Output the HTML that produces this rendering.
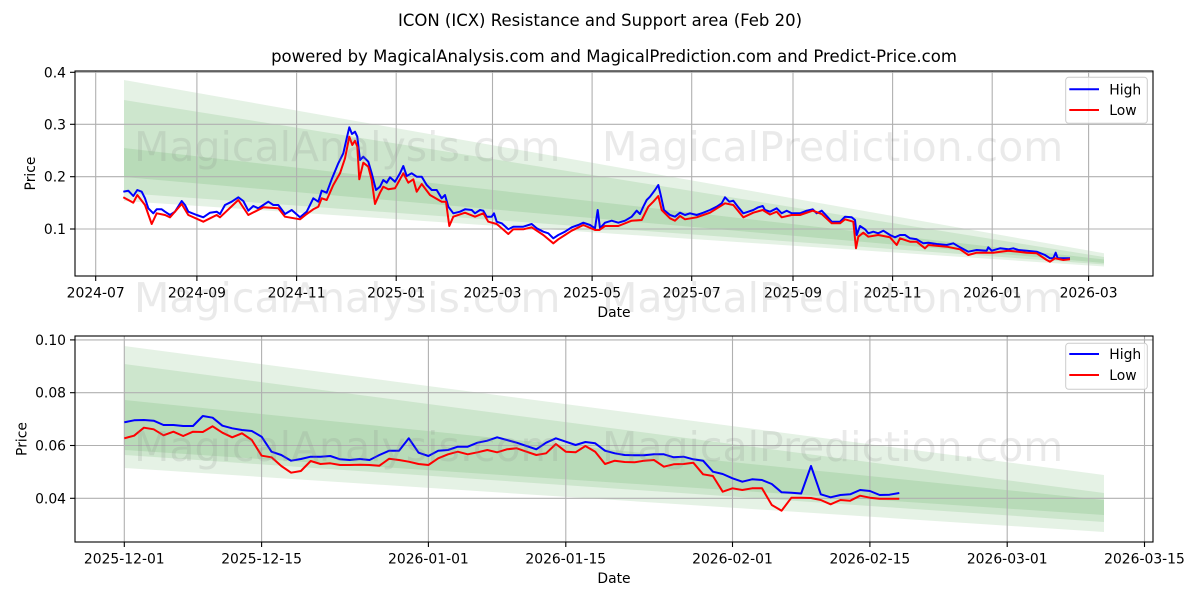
<!DOCTYPE html>
<html>
<head>
<meta charset="utf-8">
<style>
html,body{margin:0;padding:0;background:#fff;}
svg{display:block;}
text{font-family:"DejaVu Sans","Liberation Sans",sans-serif;fill:#000;}
</style>
</head>
<body>
<svg width="1200" height="600" viewBox="0 0 1200 600" xmlns="http://www.w3.org/2000/svg">
<rect x="0" y="0" width="1200" height="600" fill="#fff"/>

<!-- Titles -->
<text x="600" y="26" font-size="16.5" text-anchor="middle">ICON (ICX) Resistance and Support area (Feb 20)</text>
<text x="614" y="62" font-size="16.5" text-anchor="middle">powered by MagicalAnalysis.com and MagicalPrediction.com and Predict-Price.com</text>

<!-- ============ TOP CHART ============ -->
<defs>
<clipPath id="c1"><rect x="75" y="71" width="1078" height="205"/></clipPath>
<clipPath id="c2"><rect x="75" y="336" width="1078" height="206"/></clipPath>
</defs>
<g clip-path="url(#c1)">
<polygon points="124,80 1104,253.3 1104,266.5 124,201" fill="#008000" fill-opacity="0.1"/>
<polygon points="124,100 1104,257 1104,264.5 124,193" fill="#008000" fill-opacity="0.1"/>
<polygon points="124,148 1104,259.5 1104,263 124,177" fill="#008000" fill-opacity="0.1"/>
</g>
<!-- grid top -->
<g stroke="#b0b0b0" stroke-width="1.1">
<line x1="95.7" y1="71" x2="95.7" y2="276"/>
<line x1="196.9" y1="71" x2="196.9" y2="276"/>
<line x1="296.6" y1="71" x2="296.6" y2="276"/>
<line x1="396.2" y1="71" x2="396.2" y2="276"/>
<line x1="492.5" y1="71" x2="492.5" y2="276"/>
<line x1="592.1" y1="71" x2="592.1" y2="276"/>
<line x1="691.7" y1="71" x2="691.7" y2="276"/>
<line x1="793" y1="71" x2="793" y2="276"/>
<line x1="892.6" y1="71" x2="892.6" y2="276"/>
<line x1="992.2" y1="71" x2="992.2" y2="276"/>
<line x1="1088.6" y1="71" x2="1088.6" y2="276"/>
<line x1="75" y1="229" x2="1153" y2="229"/>
<line x1="75" y1="176.7" x2="1153" y2="176.7"/>
<line x1="75" y1="124.3" x2="1153" y2="124.3"/>
<line x1="75" y1="72.3" x2="1153" y2="72.3"/>
</g>
<g clip-path="url(#c1)" fill="none" stroke-width="2" stroke-linejoin="round">
<polyline stroke="#0000ff" points="123.3,191.7 128.3,190.7 133.3,196 137.3,190 141.7,191.7 145,198.3 148.3,208.3 153.3,213.3 156.7,209.3 161.7,209.3 165,211.7 170,215 175,211.7 181.7,201 185,205 188.3,211.7 196.7,215 203.3,217.3 210,212.7 216.7,211.7 220,214 225,205 231.7,201.7 238.3,197.3 243.3,201 248.3,210.7 253.3,206 258.3,208.3 263.3,205 268.3,201.7 273.3,205 278.3,205 285,214 291.7,210 300,217.3 306.7,211.7 313.3,198.3 318.3,201.7 321.7,190.7 326.7,192.7 331.7,179.3 338.3,163.3 343.3,153.3 346.7,138.3 349.3,127.3 352,134 355,131.7 357.3,136.7 360,160 363.3,156.7 368.3,161.7 371.7,173.3 376,190 380,186.7 383.3,180 386.7,182.7 390,177.3 395,181.7 400,173.3 403.3,166 406.7,176 411.7,173.3 416.7,176.7 421.7,176.7 426.7,185 431.7,190 436.7,190 441.7,198.3 445,195 448.3,206.7 453.3,213.3 460,211.7 465,209.3 471.7,210 475,213.3 480,210 483.3,210.7 486.7,216.7 491.7,216.7 494,213.3 496.7,221.7 501.7,223.3 508.3,229.3 513.3,226.7 523.3,226.7 531.7,224 536.7,228.3 543.3,231.7 548.3,233.3 553.3,238.3 558.3,235 565,231.7 571.7,227.3 578.3,225 583.3,222.7 590,225 595,228.3 597.7,210 600,228.3 605,222.7 611.7,220.7 618.3,222.7 625,220.7 631.7,216.7 636.7,210.7 640,214 643.3,206.7 646.7,200 650,196.7 655,190 658.3,185 660.7,195 664,210 670,215 675,216.7 680,212.7 685,215 690,213.3 696.7,215 703.3,212.7 710,210 716.7,206.7 721.7,203.3 725,197.3 729.3,201.7 733.3,200.7 738.3,207.3 743.3,213.3 748.3,211.7 753.3,210 758.3,207.3 762.7,206 765,210 770,211.7 776.7,208.3 781.7,213.3 786.7,210.7 791.7,213.3 800,213.3 806.7,210.7 812.7,209.3 816.7,213.3 821.7,210.7 826.7,216 831.7,221.7 840,221.7 845,216.7 851.7,217.3 855,220 856.7,235 860,226 865,229.3 868.3,233.3 873.3,231.7 878.3,233.3 883.3,230.7 890,235 895,237.3 900,235 905,235 910,238.3 916.7,239.3 923.3,243.3 928.3,242.7 936.7,244 946.7,245 953.3,243.3 960,247.3 968.3,251.7 976.7,250 986.7,250.7 988.3,247.3 991.7,250.7 1000,248.3 1008.3,249.3 1013.3,248.3 1018.3,250 1026.7,250.7 1036.7,251.7 1045,255 1050,258.3 1053.3,258.3 1055.7,252.7 1057.7,258.3 1063.3,258.3 1070,258.3"/>
<polyline stroke="#ff0000" points="123.3,197.3 133.3,202.7 137.3,195 145,205 151.7,224 156.7,213.3 165,215 170,217.3 181.7,204 188.3,215 203.3,221.7 216.7,215 220,217.3 238.3,200 248.3,215 263.3,207.3 278.3,208.3 285,216.7 300,219.3 306.7,214 313.3,209.3 318.3,206.7 321.7,198.3 326.7,200 333.3,185 340,173.3 345,158.3 349.3,136.7 352.3,145 355,140.7 357.3,146.7 359.3,179.3 363.3,162.7 368.3,166.7 371.7,180 375,204 380,192.7 383.3,186.7 388.3,189.3 395,188.3 403.3,173.3 408.3,182.7 413.3,179.3 416.7,191.7 421.7,184 430,195 441.7,201.7 446,201.7 449.3,226 453.3,216.7 465,212.7 475,216.7 483.3,213.3 488.3,221.7 496.7,224 501.7,228.3 508.3,234 513.3,229.3 523.3,229.3 531.7,227.3 543.3,235 553.3,243.3 558.3,239.3 565,235 571.7,230.7 583.3,225 595,230 599.3,230 605,226 618.3,226 631.7,220.7 641.7,220 648.3,206.7 653.3,201.7 658.3,196 661.7,210 670,218.3 675,220.7 680,216 685,219.3 696.7,217.3 710,212.7 725,203.3 733.3,205 743.3,217.3 753.3,212.7 762.7,210 770,214.5 776.7,211.7 781.7,217.3 791.7,215 800,215 812.7,210.7 821.7,214 831.7,223.3 840,223.3 845,219.3 853.3,221.7 856,248.3 858.3,236.7 863.3,232.7 868.3,236.7 878.3,235 890,237.3 896.7,245 900,238.3 910,241.7 916.7,241.7 925,248.3 928.3,245 946.7,246.7 960,249.3 968.3,255 976.7,252.7 993.3,252.7 1008.3,250.7 1026.7,252.7 1036.7,253.3 1046.7,260 1050,261.7 1055,258.3 1063.3,260 1070,259.3"/>
</g>
<!-- spines top -->
<rect x="75" y="71" width="1078" height="205" fill="none" stroke="#000" stroke-width="1.1"/>
<!-- ticks top -->
<g stroke="#000" stroke-width="1.1">
<line x1="95.7" y1="276" x2="95.7" y2="281"/>
<line x1="196.9" y1="276" x2="196.9" y2="281"/>
<line x1="296.6" y1="276" x2="296.6" y2="281"/>
<line x1="396.2" y1="276" x2="396.2" y2="281"/>
<line x1="492.5" y1="276" x2="492.5" y2="281"/>
<line x1="592.1" y1="276" x2="592.1" y2="281"/>
<line x1="691.7" y1="276" x2="691.7" y2="281"/>
<line x1="793" y1="276" x2="793" y2="281"/>
<line x1="892.6" y1="276" x2="892.6" y2="281"/>
<line x1="992.2" y1="276" x2="992.2" y2="281"/>
<line x1="1088.6" y1="276" x2="1088.6" y2="281"/>
<line x1="70" y1="229" x2="75" y2="229"/>
<line x1="70" y1="176.7" x2="75" y2="176.7"/>
<line x1="70" y1="124.3" x2="75" y2="124.3"/>
<line x1="70" y1="72.3" x2="75" y2="72.3"/>
</g>
<g font-size="13.9" text-anchor="middle">
<text x="95.7" y="297.5">2024-07</text>
<text x="196.9" y="297.5">2024-09</text>
<text x="296.6" y="297.5">2024-11</text>
<text x="396.2" y="297.5">2025-01</text>
<text x="492.5" y="297.5">2025-03</text>
<text x="592.1" y="297.5">2025-05</text>
<text x="691.7" y="297.5">2025-07</text>
<text x="793" y="297.5">2025-09</text>
<text x="892.6" y="297.5">2025-11</text>
<text x="992.2" y="297.5">2026-01</text>
<text x="1088.6" y="297.5">2026-03</text>
</g>
<g font-size="13.9" text-anchor="end">
<text x="66" y="234">0.1</text>
<text x="66" y="181.7">0.2</text>
<text x="66" y="129.3">0.3</text>
<text x="66" y="77.3">0.4</text>
</g>
<text x="614" y="317" font-size="13.9" text-anchor="middle">Date</text>
<text transform="translate(35,173.5) rotate(-90)" font-size="13.9" text-anchor="middle">Price</text>
<!-- legend top -->
<rect x="1065.7" y="77.3" width="81.6" height="46" rx="3" fill="#fff" fill-opacity="0.8" stroke="#cccccc" stroke-width="1"/>
<line x1="1069.3" y1="89.3" x2="1099" y2="89.3" stroke="#0000ff" stroke-width="2"/>
<line x1="1069.3" y1="110" x2="1099" y2="110" stroke="#ff0000" stroke-width="2"/>
<text x="1109.3" y="94.3" font-size="13.9">High</text>
<text x="1109.3" y="115" font-size="13.9">Low</text>

<!-- ============ BOTTOM CHART ============ -->
<g clip-path="url(#c2)">
<polygon points="124.3,346 1104,475 1104,532 124.3,468" fill="#008000" fill-opacity="0.1"/>
<polygon points="124.3,364 1104,493 1104,522 124.3,455" fill="#008000" fill-opacity="0.1"/>
<polygon points="124.3,400 1104,500 1104,515 124.3,450" fill="#008000" fill-opacity="0.1"/>
</g>
<g stroke="#b0b0b0" stroke-width="1.1">
<line x1="124.3" y1="336" x2="124.3" y2="542"/>
<line x1="261.6" y1="336" x2="261.6" y2="542"/>
<line x1="428.4" y1="336" x2="428.4" y2="542"/>
<line x1="565.8" y1="336" x2="565.8" y2="542"/>
<line x1="732.5" y1="336" x2="732.5" y2="542"/>
<line x1="869.9" y1="336" x2="869.9" y2="542"/>
<line x1="1007.2" y1="336" x2="1007.2" y2="542"/>
<line x1="1144.5" y1="336" x2="1144.5" y2="542"/>
<line x1="75" y1="498.3" x2="1153" y2="498.3"/>
<line x1="75" y1="445.5" x2="1153" y2="445.5"/>
<line x1="75" y1="392.7" x2="1153" y2="392.7"/>
<line x1="75" y1="339.9" x2="1153" y2="339.9"/>
</g>
<g clip-path="url(#c2)" fill="none" stroke-width="2" stroke-linejoin="round">
<polyline stroke="#0000ff" points="124.3,422.3 134.1,420.3 143.9,420 153.7,420.7 163.5,425 173.4,425 183.2,426 193,426 202.8,416 212.6,417.7 222.4,425.7 232.2,428.3 242,430 251.8,431 261.6,436.7 271.5,451.7 281.3,455 291.1,460.7 300.9,459 310.7,456.7 320.5,456.7 330.3,456 340.1,459.3 349.9,460 359.7,459 369.6,460 379.4,455 389.2,450.7 399,450.7 408.8,438.3 418.6,452.7 428.4,456 438.2,450.7 448,450 457.8,446.7 467.7,446.7 477.5,442.7 487.3,440.7 497.1,437.3 506.9,440 516.7,442.7 526.5,446 536.3,449.3 546.1,442.7 555.9,438.3 565.8,441.7 575.6,445 585.4,442 595.2,443.3 605,450.7 614.8,453.3 624.6,455 634.4,455.3 644.2,455.3 654,454.3 663.9,454.3 673.7,457.3 683.5,456.7 693.3,459.3 703.1,460.7 712.9,471.7 722.7,474 732.5,478.3 742.3,481.7 752.1,479.3 762,480 771.8,484 781.6,492.3 791.4,492.7 801.2,493.5 811,466 820.8,494.3 830.6,497.3 840.4,495 850.2,494.3 860.1,490 869.9,491 879.7,495 889.5,494.7 899.3,493"/>
<polyline stroke="#ff0000" points="124.3,438.3 134.1,435.7 143.9,427.7 153.7,429.3 163.5,435.3 173.4,431.7 183.2,436 193,431.7 202.8,432 212.6,426.3 222.4,432.7 232.2,437.3 242,433.3 251.8,440 261.6,455.7 271.5,457.3 281.3,466 291.1,472.7 300.9,471 310.7,461 320.5,464 330.3,463.3 340.1,465 349.9,465 359.7,464.7 369.6,465 379.4,465.7 389.2,458.7 399,460 408.8,461.7 418.6,464 428.4,465 438.2,458.3 448,454.3 457.8,451.7 467.7,454.3 477.5,452.3 487.3,450 497.1,452.3 506.9,449.3 516.7,448.3 526.5,451.7 536.3,455 546.1,453.3 555.9,444 565.8,451.7 575.6,452.3 585.4,446 595.2,451.7 605,464 614.8,460.7 624.6,462 634.4,462.3 644.2,460.7 654,460 663.9,466.7 673.7,464.3 683.5,464 693.3,462.7 703.1,474.3 712.9,476 722.7,491.7 732.5,488.3 742.3,490 752.1,488.3 762,488.3 771.8,505 781.6,510.7 791.4,497.7 801.2,497.7 811,498 820.8,500 830.6,504.3 840.4,500 850.2,500.7 860.1,495.7 869.9,497.7 879.7,498.7 889.5,498.7 899.3,498.7"/>
</g>
<rect x="75" y="336" width="1078" height="206" fill="none" stroke="#000" stroke-width="1.1"/>
<g stroke="#000" stroke-width="1.1">
<line x1="124.3" y1="542" x2="124.3" y2="547"/>
<line x1="261.6" y1="542" x2="261.6" y2="547"/>
<line x1="428.4" y1="542" x2="428.4" y2="547"/>
<line x1="565.8" y1="542" x2="565.8" y2="547"/>
<line x1="732.5" y1="542" x2="732.5" y2="547"/>
<line x1="869.9" y1="542" x2="869.9" y2="547"/>
<line x1="1007.2" y1="542" x2="1007.2" y2="547"/>
<line x1="1144.5" y1="542" x2="1144.5" y2="547"/>
<line x1="70" y1="498.3" x2="75" y2="498.3"/>
<line x1="70" y1="445.5" x2="75" y2="445.5"/>
<line x1="70" y1="392.7" x2="75" y2="392.7"/>
<line x1="70" y1="339.9" x2="75" y2="339.9"/>
</g>
<g font-size="13.9" text-anchor="middle">
<text x="124.3" y="563.5">2025-12-01</text>
<text x="261.6" y="563.5">2025-12-15</text>
<text x="428.4" y="563.5">2026-01-01</text>
<text x="565.8" y="563.5">2026-01-15</text>
<text x="732.5" y="563.5">2026-02-01</text>
<text x="869.9" y="563.5">2026-02-15</text>
<text x="1007.2" y="563.5">2026-03-01</text>
<text x="1144.5" y="563.5">2026-03-15</text>
</g>
<g font-size="13.9" text-anchor="end">
<text x="66" y="503.3">0.04</text>
<text x="66" y="450.5">0.06</text>
<text x="66" y="397.7">0.08</text>
<text x="66" y="344.9">0.10</text>
</g>
<text x="614" y="583" font-size="13.9" text-anchor="middle">Date</text>
<text transform="translate(26.5,439) rotate(-90)" font-size="13.9" text-anchor="middle">Price</text>
<rect x="1065.7" y="343.3" width="81.6" height="46" rx="3" fill="#fff" fill-opacity="0.8" stroke="#cccccc" stroke-width="1"/>
<line x1="1069.3" y1="354" x2="1099" y2="354" stroke="#0000ff" stroke-width="2"/>
<line x1="1069.3" y1="375" x2="1099" y2="375" stroke="#ff0000" stroke-width="2"/>
<text x="1109.3" y="359" font-size="13.9">High</text>
<text x="1109.3" y="380" font-size="13.9">Low</text>

<!-- Watermarks -->
<g font-size="41" style="fill:#808080" fill-opacity="0.17">
<text x="134" y="161" style="fill:#808080">MagicalAnalysis.com</text>
<text x="602" y="161" style="fill:#808080">MagicalPrediction.com</text>
<text x="134" y="312" style="fill:#808080">MagicalAnalysis.com</text>
<text x="602" y="312" style="fill:#808080">MagicalPrediction.com</text>
<text x="134" y="461" style="fill:#808080">MagicalAnalysis.com</text>
<text x="602" y="461" style="fill:#808080">MagicalPrediction.com</text>
</g>
</svg>
</body>
</html>
